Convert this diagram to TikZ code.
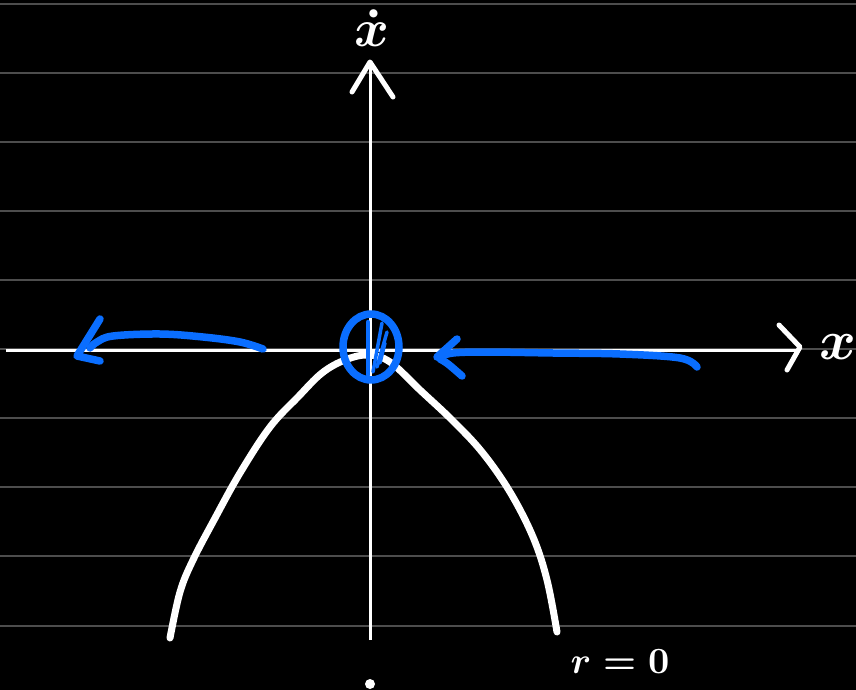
\documentclass[tikz,border=0pt]{standalone}
\usepackage{amsmath,amssymb}
\usepackage{xcolor}
\usepackage{tikz}
\usetikzlibrary{arrows.meta,positioning,calc}
\definecolor{penblue}{HTML}{0A6EFF}
\definecolor{rulegrey}{HTML}{4D4D4D}
\newcommand{\RuleLine}[1]{%
  \draw[rulegrey, line width=1.3pt] (0,#1)--(856,#1);
}
\newcommand{\RuledPaper}{%
  \RuleLine{4}\RuleLine{73}\RuleLine{142}\RuleLine{211}\RuleLine{280}
  \RuleLine{349}\RuleLine{418}\RuleLine{487}\RuleLine{556}\RuleLine{626}
}

\begin{document}
\begin{tikzpicture}[x=1pt,y=-1pt,
  chalk/.style={white, line width=3pt},
  pen/.style={white, line width=7pt, line cap=round, line join=round},
  bluepen/.style={penblue, line width=7.5pt, line cap=round, line join=round},
  chalktext/.style={text=white, inner sep=0pt, font=\boldmath}]
  \fill[black] (0,0) rectangle (856,690);
  \useasboundingbox (0,0) rectangle (856,690);
  \RuledPaper
  % axes
  \coordinate (west) at (6,350);
  \coordinate (east) at (798,350);
  \coordinate (south) at (370,640);
  \coordinate (north) at (370,64);
  \draw[chalk] (west) -- (east);
  \draw[chalk] (south) -- (north);
  \draw[pen, line width=5pt] (352,92) -- (370,62) -- (393,97);
  \draw[pen, line width=5pt] (779,325) -- (800,347) -- (787,370);
  \node[chalktext, scale=5.3] (xdot) at (372,28) {$\dot{x}$};
  \node[chalktext, scale=5.6] (xlab) at (838,347) {$x$};
  \fill[white] (370,684) circle (5pt);
  % flow curve
  \draw[pen] plot[smooth, tension=0.6] coordinates {(170,638) (180,592) (193,560)
    (214,520) (240,473) (270,427) (298,397) (322,373) (345,360) (368,355)
    (390,362) (420,390) (452,420) (482,452) (510,492) (533,537) (547,580) (557,632)};
  \node[chalktext, scale=3.7] (rlab) at (620,662) {$r=0$};
  % fixed point
  \draw[bluepen] (371,347) ellipse [x radius=28pt, y radius=33pt];
  \draw[bluepen, line width=4.5pt] (368,322) -- (368,375);
  \draw[bluepen, line width=3.5pt] (382,323) -- (373,372);
  \draw[bluepen, line width=3.5pt] (387,332) -- (377,367);
  \draw[bluepen, line width=3.5pt] (385,343) -- (380,363);
  % flow arrows
  \draw[bluepen] plot[smooth, tension=0.6] coordinates {(263,349) (240,342)
    (203,337) (160,334) (113,336) (97,342) (90,348)};
  \draw[bluepen] (100,319) -- (77,356) -- (100,361);
  \draw[bluepen] plot[smooth, tension=0.6] coordinates {(697,367) (680,358)
    (620,354) (553,353) (487,352) (453,353) (440,357)};
  \draw[bluepen] (457,339) -- (437,357);
  \draw[bluepen] plot[smooth, tension=0.6] coordinates {(440,359) (448,364) (462,376)};
\end{tikzpicture}
\end{document}
